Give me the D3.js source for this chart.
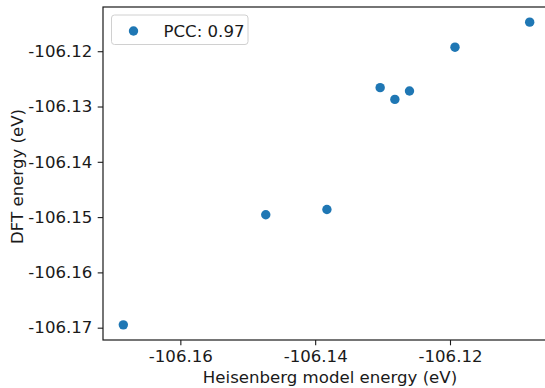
<!DOCTYPE html>
<html>
<head>
<meta charset="utf-8">
<script src="https://cdn.jsdelivr.net/npm/d3@7"></script>
<style>
  html, body { margin: 0; padding: 0; background: #fff; }
  svg { display: block; }
  text { font-family: "DejaVu Sans", sans-serif; fill: #1a1a1a; }
</style>
</head>
<body>
<svg id="chart" width="545" height="388"></svg>
<script>
// Heisenberg model energy vs DFT energy for each configuration (eV)
const heisenbergEnergy = [-106.16846, -106.14733, -106.13826, -106.13036, -106.12818, -106.12601, -106.11926, -106.10818];
const dftEnergy        = [-106.16949, -106.14958, -106.14862, -106.12659, -106.12871, -106.12720, -106.11927, -106.11474];

const xTickValues = [-106.16, -106.14, -106.12];
const xTickLabels = ["-106.16", "-106.14", "-106.12"];
const yTickValues = [-106.12, -106.13, -106.14, -106.15, -106.16, -106.17];
const yTickLabels = ["-106.12", "-106.13", "-106.14", "-106.15", "-106.16", "-106.17"];

const legendLabel = "PCC: 0.97";
const xLabel = "Heisenberg model energy (eV)";
const yLabel = "DFT energy (eV)";

const points = heisenbergEnergy.map((x, i) => ({ x, y: dftEnergy[i] }));

// Plot box
const plotLeft = 103, plotTop = 7, plotBottom = 340, plotW = 447;
const fontSize = 16.6;
const tickLen = 5.3, tickPad = 5.3;
const dotColor = "#1f77b4";

// Auto-limits with 5% margins on each side
function padded(values) {
  const [lo, hi] = d3.extent(values);
  const m = (hi - lo) * 0.05;
  return [lo - m, hi + m];
}

const x = d3.scaleLinear().domain(padded(heisenbergEnergy)).range([plotLeft, plotLeft + plotW]);
const y = d3.scaleLinear().domain(padded(dftEnergy)).range([plotBottom, plotTop]);

const svg = d3.select("#chart");

// Points
svg.append("g")
  .selectAll("circle")
  .data(points)
  .join("circle")
  .attr("cx", d => x(d.x))
  .attr("cy", d => y(d.y))
  .attr("r", 4.7)
  .attr("fill", dotColor);

// Axes
const xAxis = d3.axisBottom(x)
  .tickValues(xTickValues)
  .tickFormat((d, i) => xTickLabels[i])
  .tickSize(tickLen)
  .tickPadding(tickPad);

const yAxis = d3.axisLeft(y)
  .tickValues(yTickValues)
  .tickFormat((d, i) => yTickLabels[i])
  .tickSize(tickLen)
  .tickPadding(tickPad);

const gx = svg.append("g").attr("transform", `translate(0,${plotBottom})`).call(xAxis);
const gy = svg.append("g").attr("transform", `translate(${plotLeft},0)`).call(yAxis);

[gx, gy].forEach(g => {
  g.select(".domain").remove();
  g.selectAll(".tick line").attr("stroke", "#1a1a1a").attr("stroke-width", 1.1);
  g.selectAll(".tick text")
    .attr("font-family", "DejaVu Sans, sans-serif")
    .attr("font-size", fontSize)
    .attr("fill", "#1a1a1a");
});
gx.selectAll(".tick text").attr("dy", null).attr("y", 0).attr("dominant-baseline", null)
  .attr("transform", "translate(0,21.5)");

// Frame (left, top, bottom spines; right side runs past the canvas edge)
svg.append("rect")
  .attr("x", plotLeft)
  .attr("y", plotTop)
  .attr("width", plotW)
  .attr("height", plotBottom - plotTop)
  .attr("fill", "none")
  .attr("stroke", "#1a1a1a")
  .attr("stroke-width", 1.2);

// Axis labels
svg.append("text")
  .attr("x", 330)
  .attr("y", 382.5)
  .attr("text-anchor", "middle")
  .attr("font-size", fontSize)
  .text(xLabel);

svg.append("text")
  .attr("transform", `translate(23.3,176.5) rotate(-90)`)
  .attr("text-anchor", "middle")
  .attr("font-size", fontSize)
  .text(yLabel);

// Legend
const lg = svg.append("g");
lg.append("rect")
  .attr("x", 111.5).attr("y", 15)
  .attr("width", 136.5).attr("height", 29.5)
  .attr("rx", 3)
  .attr("fill", "#fff").attr("fill-opacity", 0.8)
  .attr("stroke", "#d0d0d0").attr("stroke-width", 1);
lg.append("circle")
  .attr("cx", 133.5).attr("cy", 31)
  .attr("r", 4.7)
  .attr("fill", dotColor);
lg.append("text")
  .attr("x", 163.5).attr("y", 31)
  .attr("dominant-baseline", "central")
  .attr("font-size", fontSize)
  .text(legendLabel);
</script>
</body>
</html>
